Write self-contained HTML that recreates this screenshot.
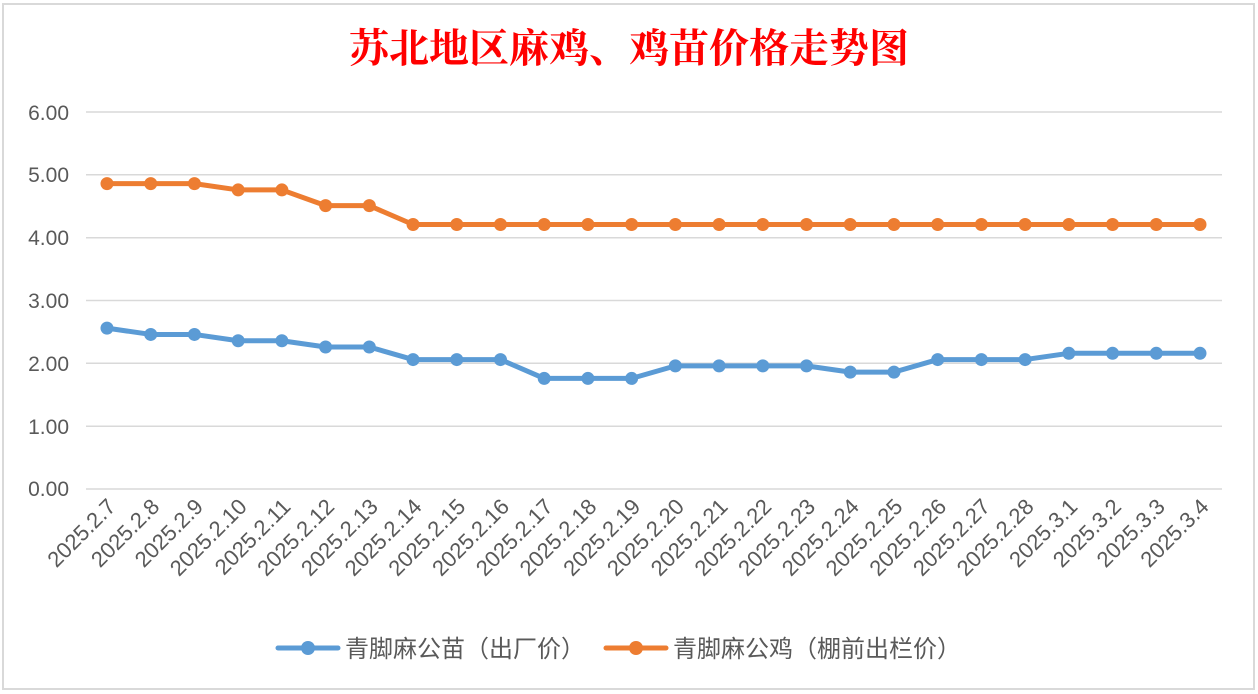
<!DOCTYPE html>
<html><head><meta charset="utf-8"><style>
html,body{margin:0;padding:0;background:#fff;}
svg{display:block;}
</style></head><body>
<svg width="1258" height="694" xmlns="http://www.w3.org/2000/svg" font-family="Liberation Sans, Noto Sans CJK SC, sans-serif">
<rect x="0" y="0" width="1258" height="694" fill="#fff"/>
<rect x="3" y="4" width="1251" height="685" fill="#fff" stroke="#d9d9d9" stroke-width="2"/>
<text x="629" y="62" text-anchor="middle" font-size="40" font-weight="bold" fill="#ff0000" font-family="Noto Serif CJK SC, serif">苏北地区麻鸡、鸡苗价格走势图</text>
<g stroke="#d9d9d9" stroke-width="1.5">
<line x1="86" x2="1222" y1="112" y2="112"/><line x1="86" x2="1222" y1="174.8" y2="174.8"/>
<line x1="86" x2="1222" y1="237.7" y2="237.7"/><line x1="86" x2="1222" y1="300.5" y2="300.5"/>
<line x1="86" x2="1222" y1="363.3" y2="363.3"/><line x1="86" x2="1222" y1="426.2" y2="426.2"/>
<line x1="86" x2="1222" y1="489" y2="489"/>
</g>
<g font-size="21" fill="#595959" text-anchor="end">
<text x="69" y="120">6.00</text><text x="69" y="182">5.00</text><text x="69" y="245">4.00</text>
<text x="69" y="308">3.00</text><text x="69" y="371">2.00</text><text x="69" y="434">1.00</text><text x="69" y="496">0.00</text>
</g>
<g id="xl" font-size="22" fill="#595959" text-anchor="end"></g>
<polyline id="po" fill="none" stroke="#ed7d31" stroke-width="5" stroke-linejoin="round"/>
<polyline id="pb" fill="none" stroke="#5b9bd5" stroke-width="5" stroke-linejoin="round"/>
<g id="dots"></g>
<line x1="278" x2="338" y1="648" y2="648" stroke="#5b9bd5" stroke-width="5" stroke-linecap="round"/>
<circle cx="308" cy="648" r="7" fill="#5b9bd5"/>
<text x="345" y="657" font-size="24" fill="#595959">青脚麻公苗（出厂价）</text>
<line x1="606" x2="666" y1="648" y2="648" stroke="#ed7d31" stroke-width="5" stroke-linecap="round"/>
<circle cx="636" cy="648" r="7" fill="#ed7d31"/>
<text x="673" y="657" font-size="24" fill="#595959">青脚麻公鸡（棚前出栏价）</text>
</svg>
<script>
var labels=["2025.2.7","2025.2.8","2025.2.9","2025.2.10","2025.2.11","2025.2.12","2025.2.13","2025.2.14","2025.2.15","2025.2.16","2025.2.17","2025.2.18","2025.2.19","2025.2.20","2025.2.21","2025.2.22","2025.2.23","2025.2.24","2025.2.25","2025.2.26","2025.2.27","2025.2.28","2025.3.1","2025.3.2","2025.3.3","2025.3.4"];
var o=[4.86,4.86,4.86,4.76,4.76,4.51,4.51,4.21];while(o.length<26)o.push(4.21);
var b=[2.56,2.46,2.46,2.36,2.36,2.26,2.26,2.06,2.06,2.06,1.76,1.76,1.76,1.96,1.96,1.96,1.96,1.86,1.86,2.06,2.06,2.06,2.16,2.16,2.16,2.16];
var NS="http://www.w3.org/2000/svg";
function X(i){return 107+i*43.72;} function Y(v){return 489-v*62.83;}
var xl=document.getElementById('xl'),d=document.getElementById('dots');
var po=[],pb=[];
for(var i=0;i<26;i++){
 var t=document.createElementNS(NS,'text');var x=X(i)+10,y=508;
 t.setAttribute('x',x);t.setAttribute('y',y);t.setAttribute('transform','rotate(-45 '+x+' '+y+')');
 t.textContent=labels[i];xl.appendChild(t);
 po.push(X(i)+','+Y(o[i]));pb.push(X(i)+','+Y(b[i]));
 [[o[i],'#ed7d31'],[b[i],'#5b9bd5']].forEach(function(p){var c=document.createElementNS(NS,'circle');
 c.setAttribute('cx',X(i));c.setAttribute('cy',Y(p[0]));c.setAttribute('r',6.5);c.setAttribute('fill',p[1]);d.appendChild(c);});
}
document.getElementById('po').setAttribute('points',po.join(' '));
document.getElementById('pb').setAttribute('points',pb.join(' '));
</script>
</body></html>
